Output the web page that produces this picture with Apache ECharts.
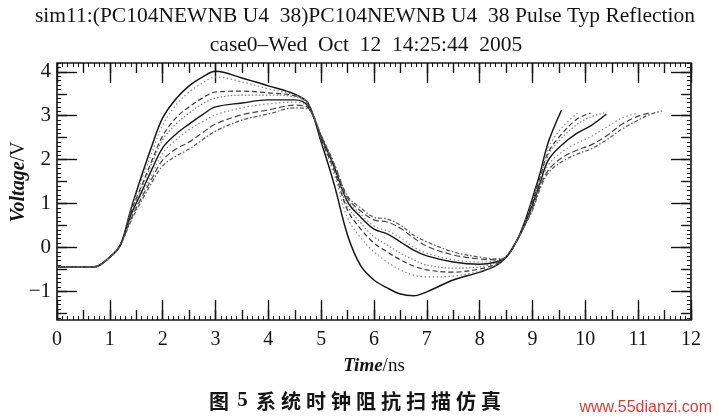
<!DOCTYPE html>
<html>
<head>
<meta charset="utf-8">
<script src="https://cdn.jsdelivr.net/npm/echarts@6/dist/echarts.min.js"></script>
<style>html,body{margin:0;padding:0;background:#fff}#chart{width:718px;height:419px}</style>
</head>
<body>
<div id="chart"></div>
<script>
// ---------- texts ----------
const titleLine1 = 'sim11:(PC104NEWNB U4  38)PC104NEWNB U4  38 Pulse Typ Reflection';
const titleLine2 = 'case0\u2013Wed  Oct  12  14:25:44  2005';
const xAxisName = 'Time';
const xAxisUnit = '/ns';
const yAxisName = 'Voltage';
const yAxisUnit = '/V';
const caption = '图 5 系统时钟阻抗扫描仿真';
const watermark = 'www.55dianzi.com';

// ---------- axes ----------
const xMin = 0, xMax = 12;
const yMin = -1.65, yMax = 4.2;
const yLabelMin = -1, yLabelMax = 4;

// ---------- data (time in ns, voltage in V) ----------
const times = [0, 0.7, 1.0, 1.2, 1.4, 1.6, 1.8, 2.0, 2.25, 2.5, 2.75, 3.0, 3.5, 4.0, 4.5, 4.75,
  5.0, 5.25, 5.5, 5.75, 6.0, 6.25, 6.5, 6.75, 7.0, 7.5, 8.0, 8.3,
  8.5, 8.7, 8.85, 9.0, 9.15, 9.3, 9.55, 9.85, 10.1, 10.4, 10.7, 11.0, 11.2, 11.45];

const curveA = [-0.44, -0.44, -0.22, 0.06, 0.88, 1.63, 2.33, 2.95, 3.38, 3.68, 3.88, 4.01, 3.86, 3.68, 3.49, 3.29,
  2.40, 1.42, 0.28, -0.42, -0.74, -0.92, -1.06, -1.10, -1.01, -0.74, -0.56, -0.42,
  -0.22, 0.15, 0.58, 1.13, 1.72, 2.40, 3.13];
const curveB = [-0.44, -0.44, -0.22, 0.06, 0.85, 1.54, 2.17, 2.79, 3.24, 3.54, 3.74, 3.88, 3.77, 3.61, 3.47, 3.29,
  2.45, 1.65, 0.67, 0.22, -0.10, -0.33, -0.51, -0.63, -0.67, -0.65, -0.54, -0.40,
  -0.22, 0.15, 0.56, 1.08, 1.65, 2.27, 2.72, 3.06];
const curveC = [-0.44, -0.44, -0.22, 0.06, 0.81, 1.40, 1.99, 2.54, 2.95, 3.20, 3.40, 3.54, 3.56, 3.52, 3.45, 3.27,
  2.47, 1.74, 0.85, 0.42, 0.10, -0.10, -0.28, -0.42, -0.51, -0.56, -0.49, -0.38,
  -0.22, 0.15, 0.54, 1.04, 1.61, 2.17, 2.58, 2.93, 3.06];
const curveD = [-0.44, -0.44, -0.22, 0.06, 0.79, 1.35, 1.92, 2.45, 2.81, 3.06, 3.27, 3.40, 3.47, 3.47, 3.43, 3.27,
  2.49, 1.79, 0.94, 0.56, 0.24, 0.06, -0.13, -0.28, -0.40, -0.47, -0.44, -0.35,
  -0.22, 0.15, 0.54, 1.01, 1.56, 2.11, 2.49, 2.81, 2.97, 3.08];
const curveE = [-0.44, -0.44, -0.22, 0.06, 0.74, 1.26, 1.79, 2.27, 2.58, 2.81, 3.02, 3.20, 3.29, 3.36, 3.36, 3.22,
  2.52, 1.83, 1.04, 0.69, 0.42, 0.31, 0.13, -0.06, -0.19, -0.33, -0.38, -0.33,
  -0.22, 0.15, 0.51, 0.97, 1.49, 1.99, 2.33, 2.61, 2.77, 3.04];
const curveF = [-0.44, -0.44, -0.22, 0.06, 0.69, 1.20, 1.67, 2.15, 2.45, 2.68, 2.86, 3.02, 3.18, 3.27, 3.31, 3.20,
  2.54, 1.86, 1.08, 0.76, 0.49, 0.38, 0.22, 0.01, -0.13, -0.28, -0.33, -0.31,
  -0.22, 0.15, 0.51, 0.92, 1.45, 1.88, 2.17, 2.38, 2.52, 2.74, 2.95, 3.06];
const curveG = [-0.44, -0.44, -0.22, 0.06, 0.65, 1.13, 1.58, 1.99, 2.24, 2.40, 2.61, 2.81, 3.02, 3.13, 3.24, 3.18,
  2.54, 1.88, 1.13, 0.83, 0.63, 0.58, 0.44, 0.22, 0.03, -0.17, -0.26, -0.28,
  -0.22, 0.15, 0.49, 0.90, 1.40, 1.76, 2.04, 2.22, 2.33, 2.54, 2.81, 2.99, 3.06];
const curveH = [-0.44, -0.44, -0.22, 0.06, 0.60, 1.06, 1.49, 1.86, 2.08, 2.24, 2.45, 2.65, 2.90, 3.04, 3.18, 3.15,
  2.56, 1.90, 1.17, 0.90, 0.69, 0.65, 0.51, 0.28, 0.13, -0.10, -0.22, -0.26,
  -0.22, 0.15, 0.49, 0.85, 1.35, 1.70, 1.95, 2.13, 2.24, 2.45, 2.70, 2.90, 3.02, 3.11];

const curves = [curveA, curveB, curveC, curveD, curveE, curveF, curveG, curveH];

// ---------- styles ----------
const curveStyles = [
  {color: '#151515', width: 1.5, type: 'solid'},
  {color: '#8a8a8a', width: 1.2, type: [1.5, 2.5]},
  {color: '#333333', width: 1.2, type: [5, 3]},
  {color: '#777777', width: 1.2, type: [1.5, 2]},
  {color: '#151515', width: 1.4, type: 'solid'},
  {color: '#8a8a8a', width: 1.2, type: [1.5, 2.5]},
  {color: '#444444', width: 1.2, type: [6, 3]},
  {color: '#555555', width: 1.2, type: [4, 2, 1.5, 2]}
];

const ink = '#141414';
const serif = '"Liberation Serif", "Times New Roman", serif';
const frame = {left: 57, top: 63, width: 634, height: 257};

function yToPx(v) {
  return frame.top + (yMax - v) / (yMax - yMin) * frame.height;
}
function subGrid(vmin, vmax) {
  const t = yToPx(vmax), b = yToPx(vmin);
  return {left: frame.left, width: frame.width, top: t, height: b - t,
    containLabel: false, outerBoundsMode: 'none'};
}

const tickLine = {color: ink, width: 1.4};
const minorLine = {color: ink, width: 1};

function xTickAxis(position, interval, length, withMinor, extra) {
  return Object.assign({
    type: 'value', gridIndex: 0, min: xMin, max: xMax, interval: interval, position: position,
    axisLine: {show: false, onZero: false}, splitLine: {show: false},
    axisTick: {show: true, inside: true, length: length, lineStyle: tickLine},
    minorTick: {show: withMinor, splitNumber: 10, length: 4, lineStyle: minorLine},
    minorSplitLine: {show: false},
    axisLabel: {show: false}
  }, extra || {});
}
function yTickAxis(gridIndex, position, min, max, interval, length, extra) {
  return Object.assign({
    type: 'value', gridIndex: gridIndex, min: min, max: max, interval: interval, position: position,
    axisLine: {show: false, onZero: false}, splitLine: {show: false},
    axisTick: {show: true, inside: true, length: length, lineStyle: length > 5 ? tickLine : minorLine},
    axisLabel: {show: false}
  }, extra || {});
}
function hiddenX(gridIndex) {
  return {type: 'value', gridIndex: gridIndex, min: xMin, max: xMax, show: false,
    axisLine: {onZero: false}, splitLine: {show: false}};
}

const captionRich = caption.split('').map(function (c) {
  if (c === ' ') return '{s| }';
  if (/[0-9]/.test(c)) return '{d|' + c + '}';
  return '{h|' + c + '}';
}).join('');

const nameRich = {
  i: {fontFamily: serif, fontStyle: 'italic', fontWeight: 'bold', fontSize: 20, fill: ink},
  n: {fontFamily: serif, fontSize: 20, fill: ink}
};

const option = {
  animation: false,
  backgroundColor: '#ffffff',
  grid: [
    Object.assign({show: true, borderColor: ink, borderWidth: 1.6, backgroundColor: 'transparent',
      containLabel: false, outerBoundsMode: 'none'}, frame),
    subGrid(yLabelMin, yLabelMax),
    subGrid(-1.5, 4),
    subGrid(-1.6, 4.2)
  ],
  xAxis: [
    xTickAxis('bottom', 1, 20, true, {
      axisLabel: {show: true, margin: 10, fontFamily: serif, fontSize: 20, color: ink},
      name: '{i|' + xAxisName + '}{n|' + xAxisUnit + '}',
      nameLocation: 'middle', nameGap: 37,
      nameTextStyle: {rich: {
        i: {fontFamily: serif, fontStyle: 'italic', fontWeight: 'bold', fontSize: 19, color: ink},
        n: {fontFamily: serif, fontSize: 19, color: ink}
      }}
    }),
    xTickAxis('bottom', 0.5, 10, false),
    xTickAxis('top', 1, 20, true),
    xTickAxis('top', 0.5, 10, false),
    hiddenX(1), hiddenX(2), hiddenX(3)
  ],
  yAxis: [
    {type: 'value', gridIndex: 0, min: yMin, max: yMax, show: false,
      axisLine: {onZero: false}, splitLine: {show: false}},
    yTickAxis(1, 'left', yLabelMin, yLabelMax, 1, 20, {
      axisLabel: {show: true, margin: 6, fontFamily: serif, fontSize: 21, color: ink,
        formatter: function (v) { return v < 0 ? '\u2212' + Math.abs(v) : String(v); }}
    }),
    yTickAxis(1, 'right', yLabelMin, yLabelMax, 1, 20),
    yTickAxis(2, 'left', -1.5, 4, 0.5, 10),
    yTickAxis(2, 'right', -1.5, 4, 0.5, 10),
    yTickAxis(3, 'left', -1.6, 4.2, 0.1, 4),
    yTickAxis(3, 'right', -1.6, 4.2, 0.1, 4)
  ],
  series: curves.map(function (vals, k) {
    const st = curveStyles[k];
    return {
      type: 'line', xAxisIndex: 0, yAxisIndex: 0,
      data: vals.map(function (v, i) { return [times[i], v]; }),
      showSymbol: false, symbol: 'none', smooth: 0.35, silent: true, clip: true,
      lineStyle: {color: st.color, width: st.width, type: st.type}
    };
  }),
  graphic: [
    {type: 'text', x: 365, y: 16, silent: true,
      style: {text: titleLine1, fontFamily: serif, fontSize: 21.5, fill: ink, align: 'center', verticalAlign: 'middle'}},
    {type: 'text', x: 366, y: 45, silent: true,
      style: {text: titleLine2, fontFamily: serif, fontSize: 21.5, fill: ink, align: 'center', verticalAlign: 'middle'}},
    {type: 'text', x: 19, y: 182, rotation: Math.PI / 2, silent: true,
      style: {text: '{i|' + yAxisName + '}{n|' + yAxisUnit + '}', align: 'center', verticalAlign: 'middle', rich: nameRich}},
    {type: 'text', x: 355, y: 401, silent: true,
      style: {text: captionRich, align: 'center', verticalAlign: 'middle',
        rich: {
          h: {fontFamily: '"Noto Sans CJK SC", sans-serif', fontSize: 20, fontWeight: 'bold', fill: ink, width: 25, align: 'center'},
          d: {fontFamily: serif, fontSize: 21, fontWeight: 'bold', fill: ink, width: 10, align: 'center'},
          s: {fontSize: 12, width: 6}
        }}},
    {type: 'text', x: 712, y: 408, silent: true,
      style: {text: watermark, fontFamily: '"Liberation Sans Narrow", "Liberation Sans", sans-serif', fontSize: 16, fill: '#e23a36', align: 'right', verticalAlign: 'middle'}}
  ]
};

const chart = echarts.init(document.getElementById('chart'), null, {renderer: 'canvas'});
chart.setOption(option);
</script>
</body>
</html>
